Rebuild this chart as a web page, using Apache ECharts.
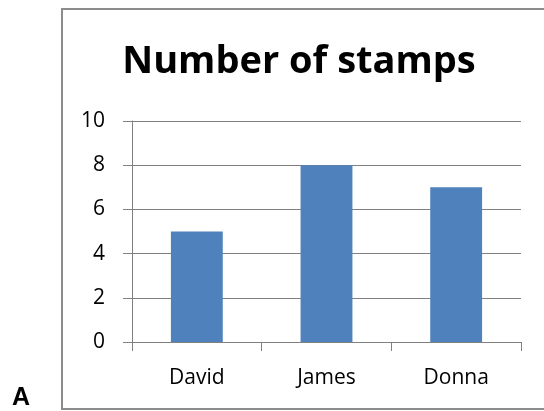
<!DOCTYPE html>
<html>
<head>
<meta charset="utf-8">
<script src="https://cdn.jsdelivr.net/npm/echarts@6/dist/echarts.min.js"></script>
<style>
html,body{margin:0;padding:0;background:#fff;}
#chart{width:544px;height:411px;}
</style>
</head>
<body>
<div id="chart"></div>
<script>
var titleText = "Number of stamps";
var panelLabel = "A";
var categories = ["David", "James", "Donna"];
var stampCounts = [5, 8, 7];
var yTicks = [0, 2, 4, 6, 8, 10];

var chart = echarts.init(document.getElementById('chart'), null, {renderer: 'canvas'});
var font = "'Open Sans', 'Noto Sans', sans-serif";
chart.setOption({
  animation: false,
  backgroundColor: '#ffffff',
  title: {
    text: titleText,
    left: 294,
    textAlign: 'center',
    top: 38,
    textStyle: {fontFamily: font, fontWeight: 'bold', fontSize: 38, color: '#000'}
  },
  graphic: [
    {
      type: 'rect',
      shape: {x: 62, y: 9, width: 500, height: 400},
      style: {fill: 'none', stroke: '#8c8c8c', lineWidth: 2},
      silent: true
    },
    {
      type: 'text',
      left: 12,
      top: 386,
      style: {text: panelLabel, font: "bold 25px 'Liberation Sans', Arial, sans-serif", fill: '#000'}
    }
  ],
  grid: {left: 132, right: 23, top: 121, bottom: 69, containLabel: false},
  xAxis: {
    type: 'category',
    data: categories,
    boundaryGap: true,
    axisLine: {show: true, lineStyle: {color: '#808080', width: 1}},
    axisTick: {show: true, length: 9, alignWithLabel: false, lineStyle: {color: '#808080'}},
    axisLabel: {margin: 26, fontFamily: font, fontSize: 21, color: '#000'},
    splitLine: {show: false}
  },
  yAxis: {
    type: 'value',
    min: yTicks[0],
    max: yTicks[yTicks.length - 1],
    interval: 2,
    axisLine: {show: true, lineStyle: {color: '#808080', width: 1}},
    axisTick: {show: true, length: 9, lineStyle: {color: '#808080'}},
    axisLabel: {margin: 27, fontFamily: font, fontSize: 21, color: '#000'},
    splitLine: {show: true, lineStyle: {color: '#808080', width: 1}}
  },
  series: [{
    type: 'bar',
    data: stampCounts,
    barWidth: '40%',
    itemStyle: {color: '#4F81BD'}
  }]
});
</script>
</body>
</html>
